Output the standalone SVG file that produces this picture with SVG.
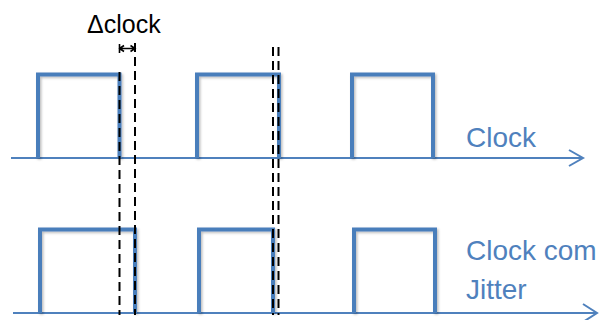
<svg xmlns="http://www.w3.org/2000/svg" width="605" height="320" viewBox="0 0 605 320">
  <defs>
    <filter id="soft" x="-20%" y="-20%" width="140%" height="140%">
      <feDropShadow dx="1.5" dy="1.5" stdDeviation="1.2" flood-color="#000" flood-opacity="0.25"/>
    </filter>
  </defs>
  <style>
    .axis { fill: none; stroke: #4f81bd; stroke-width: 2; }
    .pulse { fill: none; stroke: #4a7ebb; stroke-width: 4; stroke-linejoin: miter; filter: url(#soft); }
    .guide { fill: none; stroke: #000; stroke-width: 2; stroke-dasharray: 9 5; }
    .lbl { font-family: "Liberation Sans", Arial, sans-serif; font-size: 28px; fill: #4f81bd; }
    .dlbl { font-family: "Liberation Sans", Arial, sans-serif; font-size: 25px; fill: #000; }
  </style>

  <!-- time axes -->
  <g id="axes">
    <path class="axis" d="M11,158 H583 M569,150 L583,158 L569,166"/>
    <path class="axis" d="M13,313 H597 M583,304 L597,313 L583,322"/>
  </g>

  <!-- ideal clock -->
  <g id="clock">
    <path class="pulse" d="M38,158 V74.5 H119.5 V158"/>
    <path class="pulse" d="M197,158 V74.5 H279 V158"/>
    <path class="pulse" d="M352,158 V74.5 H433 V158"/>
    <text class="lbl" x="466" y="147">Clock</text>
  </g>

  <!-- clock with jitter -->
  <g id="jitter">
    <path class="pulse" d="M40,313 V229.5 H135 V313"/>
    <path class="pulse" d="M199,313 V229.5 H273 V313"/>
    <path class="pulse" d="M354,313 V229.5 H435 V313"/>
    <text class="lbl" x="466" y="260">Clock com</text>
    <text class="lbl" x="466" y="299">Jitter</text>
  </g>

  <!-- edge guides and skew marker -->
  <g id="guides">
    <path class="guide" d="M119.5,72 V315"/>
    <path class="guide" d="M135,43 V315"/>
    <path class="guide" d="M273,47 V315"/>
    <path class="guide" d="M278.5,47 V315"/>
    <path fill="none" stroke="#000" stroke-width="1.6" d="M119.5,44 V53 M119.5,48.5 H135 M124,45.5 L119.5,48.5 L124,51.5 M130.5,45.5 L135,48.5 L130.5,51.5"/>
    <text class="dlbl" x="87" y="33">Δclock</text>
  </g>
</svg>
